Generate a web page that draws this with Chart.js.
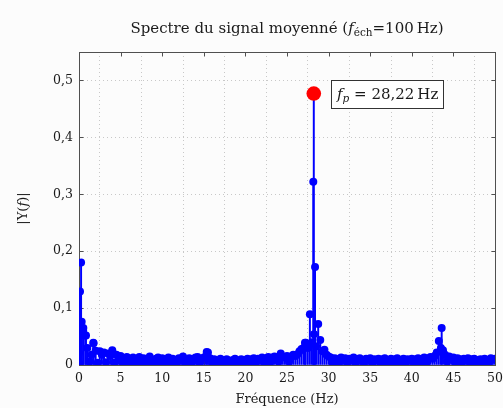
<!DOCTYPE html>
<html>
<head>
<meta charset="utf-8">
<script src="https://cdn.jsdelivr.net/npm/chart.js@4.4.0/dist/chart.umd.min.js"></script>
<style>
  html, body { margin: 0; padding: 0; background: #fcfcfc; }
  #wrap { width: 503px; height: 408px; }
</style>
</head>
<body>
<div id="wrap"><canvas id="c" width="503" height="408"></canvas></div>
<script>
// bin step of the spectrum (Hz)
const DF = 0.25;

// |Y(f)|, one value per bin from 0 to 50 Hz (5 Hz per row)
const binAmps = [
  0.003, 0.180, 0.060, 0.052, 0.030, 0.006, 0.018, 0.038, 0.025, 0.004, 0.024, 0.018, 0.022, 0.005, 0.020, 0.016, 0.026, 0.004, 0.018, 0.012,
  0.016, 0.004, 0.012, 0.014, 0.003, 0.011, 0.013, 0.002, 0.010, 0.014, 0.004, 0.012, 0.008, 0.003, 0.015, 0.009, 0.002, 0.011, 0.013, 0.003,
  0.012, 0.004, 0.010, 0.013, 0.002, 0.011, 0.008, 0.003, 0.012, 0.010, 0.015, 0.003, 0.009, 0.012, 0.002, 0.010, 0.013, 0.014, 0.004, 0.011,
  0.013, 0.015, 0.022, 0.012, 0.003, 0.010, 0.008, 0.002, 0.011, 0.009, 0.003, 0.010, 0.008, 0.002, 0.009, 0.011, 0.003, 0.008, 0.010, 0.002,
  0.009, 0.011, 0.003, 0.010, 0.012, 0.004, 0.011, 0.009, 0.013, 0.004, 0.012, 0.014, 0.005, 0.013, 0.015, 0.012, 0.006, 0.020, 0.014, 0.013,
  0.016, 0.006, 0.015, 0.018, 0.016, 0.019, 0.024, 0.028, 0.030, 0.039, 0.030, 0.089, 0.040, 0.054, 0.033, 0.072, 0.044, 0.024, 0.027, 0.018,
  0.015, 0.013, 0.004, 0.012, 0.010, 0.003, 0.013, 0.010, 0.012, 0.004, 0.011, 0.009, 0.013, 0.003, 0.010, 0.012, 0.009, 0.002, 0.011, 0.010,
  0.012, 0.003, 0.010, 0.009, 0.011, 0.002, 0.010, 0.012, 0.004, 0.009, 0.011, 0.003, 0.010, 0.012, 0.002, 0.009, 0.011, 0.004, 0.010, 0.008,
  0.011, 0.003, 0.010, 0.012, 0.004, 0.011, 0.013, 0.004, 0.012, 0.014, 0.011, 0.016, 0.022, 0.042, 0.030, 0.026, 0.018, 0.006, 0.015, 0.012,
  0.013, 0.004, 0.012, 0.010, 0.003, 0.011, 0.009, 0.012, 0.002, 0.010, 0.011, 0.003, 0.009, 0.010, 0.002, 0.011, 0.009, 0.003, 0.012, 0.010,
  0.011
];

// extra samples around the strong lines (off the 0.25 Hz grid)
const extraFreqs = [0.0, 0.12, 0.32, 0.52, 0.84, 1.72, 15.35, 27.16, 28.16, 28.37, 43.59];
const extraAmps  = [0.021, 0.129, 0.076, 0.065, 0.052, 0.039, 0.023, 0.039, 0.322, 0.172, 0.065];

// detected peak
const peakFreq = 28.22;
const peakAmp = 0.477;
const peakText = '28,22';

const xTicks = [0, 5, 10, 15, 20, 25, 30, 35, 40, 45, 50];
const yTicks = [0, 0.1, 0.2, 0.3, 0.4, 0.5];

const FONT = "'DejaVu Serif', serif";

const points = binAmps.map((a, i) => ({ x: i * DF, y: a }))
  .concat(extraFreqs.map((f, i) => ({ x: f, y: extraAmps[i] })));
points.push({ x: peakFreq, y: peakAmp });

const frac = v => v === 0 ? '0' : v.toFixed(1).replace('.', ',');

const decor = {
  id: 'decor',
  beforeDraw(chart) {
    const { ctx, width, height } = chart;
    ctx.save();
    ctx.fillStyle = '#fcfcfc';
    ctx.fillRect(0, 0, width, height);
    ctx.restore();
  },
  beforeDatasetsDraw(chart) {
    const { ctx, chartArea: a, scales: { x, y } } = chart;
    ctx.save();
    ctx.strokeStyle = '#505050';
    ctx.lineWidth = 1;
    const L = Math.round(a.left) + 0.5, R = Math.round(a.right) + 0.5;
    const T = Math.round(a.top) + 0.5, B = Math.round(a.bottom) + 0.5;
    ctx.strokeRect(L, T, R - L, B - T);
    ctx.beginPath();
    xTicks.forEach(v => {
      const px = Math.round(x.getPixelForValue(v)) + 0.5;
      ctx.moveTo(px, B); ctx.lineTo(px, B - 4);
      ctx.moveTo(px, T); ctx.lineTo(px, T + 4);
    });
    yTicks.forEach(v => {
      const py = Math.round(y.getPixelForValue(v)) + 0.5;
      ctx.moveTo(L, py); ctx.lineTo(L + 4, py);
      ctx.moveTo(R, py); ctx.lineTo(R - 4, py);
    });
    ctx.stroke();
    ctx.restore();
  },
  afterDraw(chart) {
    const { ctx, chartArea: a, scales: { x, y } } = chart;
    const cx = (a.left + a.right) / 2;
    ctx.save();
    ctx.fillStyle = '#1a1a1a';
    ctx.textBaseline = 'alphabetic';

    // title with subscript
    const parts = [
      { t: 'Spectre du signal moyenné (', f: '15px ' + FONT, dy: 0 },
      { t: 'f', f: 'italic 15px ' + FONT, dy: 0 },
      { t: 'éch', f: '10.5px ' + FONT, dy: 3 },
      { t: '=100\u2009Hz)', f: '15px ' + FONT, dy: 0 }
    ];
    let w = 0;
    parts.forEach(p => { ctx.font = p.f; p.w = ctx.measureText(p.t).width; w += p.w; });
    let tx = cx - w / 2;
    parts.forEach(p => { ctx.font = p.f; ctx.fillText(p.t, tx, 33 + p.dy); tx += p.w; });

    // x axis title
    ctx.font = '13px ' + FONT;
    ctx.textAlign = 'center';
    ctx.fillText('Fréquence (Hz)', cx, 403);

    // y axis title, rotated
    ctx.save();
    ctx.translate(27, (a.top + a.bottom) / 2);
    ctx.rotate(-Math.PI / 2);
    ctx.textAlign = 'left';
    const yl = [
      { t: '|Y(', f: '13px ' + FONT },
      { t: 'f', f: 'italic 13px ' + FONT },
      { t: ')|', f: '13px ' + FONT }
    ];
    let yw = 0;
    yl.forEach(p => { ctx.font = p.f; p.w = ctx.measureText(p.t).width; yw += p.w; });
    let yx = -yw / 2;
    yl.forEach(p => { ctx.font = p.f; ctx.fillText(p.t, yx, 0); yx += p.w; });
    ctx.restore();

    // peak label box
    const px = x.getPixelForValue(peakFreq), py = y.getPixelForValue(peakAmp);
    const lab = [
      { t: 'f', f: 'italic 15px ' + FONT, dy: 0 },
      { t: 'p', f: 'italic 10.5px ' + FONT, dy: 3 },
      { t: ' = ' + peakText + '\u2009Hz', f: '15px ' + FONT, dy: 0 }
    ];
    let lw = 0;
    lab.forEach(p => { ctx.font = p.f; p.w = ctx.measureText(p.t).width; lw += p.w; });
    const bx = Math.round(px + 17) + 0.5, bh = 28, bw = Math.round(lw + 11);
    const by = Math.round(py - bh / 2) + 0.5;
    ctx.fillStyle = '#ffffff';
    ctx.fillRect(bx, by, bw, bh);
    ctx.strokeStyle = '#333333';
    ctx.lineWidth = 1;
    ctx.strokeRect(bx, by, bw, bh);
    ctx.fillStyle = '#1a1a1a';
    ctx.textAlign = 'left';
    let lx = bx + 5.5;
    lab.forEach(p => { ctx.font = p.f; ctx.fillText(p.t, lx, py + 5 + p.dy); lx += p.w; });
    ctx.restore();
  }
};

new Chart(document.getElementById('c'), {
  type: 'scatter',
  data: {
    datasets: [
      {
        type: 'scatter',
        data: [{ x: peakFreq, y: peakAmp }],
        backgroundColor: '#ff0000',
        borderWidth: 0,
        pointRadius: 7.3,
        order: 0
      },
      {
        type: 'scatter',
        data: points,
        backgroundColor: '#0000ff',
        borderWidth: 0,
        pointRadius: 4,
        order: 1
      },
      {
        type: 'bar',
        data: points,
        backgroundColor: '#0000ff',
        barThickness: 1.3,
        grouped: false,
        order: 2
      }
    ]
  },
  options: {
    responsive: false,
    animation: false,
    events: [],
    layout: { autoPadding: false, padding: { top: 52, right: 8, left: 0, bottom: 0 } },
    plugins: { legend: { display: false }, tooltip: { enabled: false }, title: { display: false } },
    scales: {
      x: {
        type: 'linear',
        min: 0,
        max: 50,
        offset: false,
        afterFit: s => { s.height = 43; s.paddingLeft = 0; s.paddingRight = 0; },
        afterBuildTicks: s => { s.ticks = xTicks.map(v => ({ value: v })); },
        ticks: {
          font: { family: FONT, size: 12.5 },
          color: '#1a1a1a',
          padding: 6,
          maxRotation: 0,
          autoSkip: false,
          callback: v => String(v)
        },
        grid: { color: '#c8c8c8', lineWidth: 1, drawTicks: false },
        border: { display: false, dash: [1, 3] }
      },
      y: {
        type: 'linear',
        min: 0,
        max: 0.55,
        afterFit: s => { s.width = 79; s.paddingTop = 0; s.paddingBottom = 0; },
        afterBuildTicks: s => { s.ticks = yTicks.map(v => ({ value: v })); },
        ticks: {
          font: { family: FONT, size: 12.5 },
          color: '#1a1a1a',
          padding: 6,
          autoSkip: false,
          callback: v => frac(v)
        },
        grid: { color: '#c8c8c8', lineWidth: 1, drawTicks: false },
        border: { display: false, dash: [1, 3] }
      }
    }
  },
  plugins: [decor]
});
</script>
</body>
</html>
